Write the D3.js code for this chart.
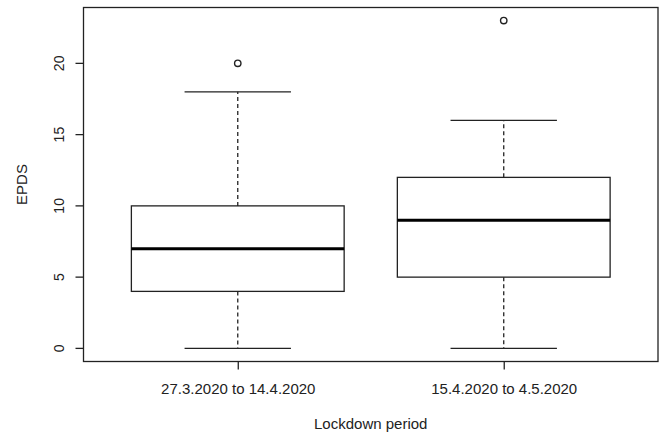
<!DOCTYPE html>
<html>
<head>
<meta charset="utf-8">
<script src="https://cdn.jsdelivr.net/npm/d3@7"></script>
<style>
  body { margin: 0; background: #fff; }
  svg { display: block; font-family: "Liberation Sans", Arial, sans-serif; }
</style>
</head>
<body>
<div id="chart"></div>
<script>
// values
const groups = ["27.3.2020 to 14.4.2020", "15.4.2020 to 4.5.2020"];
const lowWhisker = [0, 0];
const q1 = [4, 5];
const medians = [7, 9];
const q3 = [10, 12];
const highWhisker = [18, 16];
const outliers = [[20], [23]];
const yTicks = [0, 5, 10, 15, 20];

const width = 659, height = 437;
const ink = "#222";

const svg = d3.select("#chart").append("svg")
    .attr("width", width)
    .attr("height", height);

// R-like: positions 1..n, range extended 4%
let x = d3.scaleLinear().domain([0.42, 2.58]).range([83.5, 658]);
let y = d3.scaleLinear().domain([-0.92, 23.92]).range([361.5, 7.5]);

const boxHalf = 0.4, capHalf = 0.2;

const box = svg.selectAll("g.box")
    .data(groups.map((g, i) => ({
        pos: i + 1, lo: lowWhisker[i], q1: q1[i], med: medians[i],
        q3: q3[i], hi: highWhisker[i], out: outliers[i]
    })))
    .join("g")
    .attr("class", "box");

// whiskers (dashed)
box.append("line")
    .attr("x1", d => x(d.pos)).attr("x2", d => x(d.pos))
    .attr("y1", d => y(d.q3)).attr("y2", d => y(d.hi))
    .attr("stroke", ink).attr("stroke-width", 1.3).attr("stroke-dasharray", "4,3");
box.append("line")
    .attr("x1", d => x(d.pos)).attr("x2", d => x(d.pos))
    .attr("y1", d => y(d.q1)).attr("y2", d => y(d.lo))
    .attr("stroke", ink).attr("stroke-width", 1.3).attr("stroke-dasharray", "4,3");

// staples
box.selectAll("line.cap")
    .data(d => [d.lo, d.hi].map(v => ({pos: d.pos, v})))
    .join("line")
    .attr("class", "cap")
    .attr("x1", d => x(d.pos - capHalf)).attr("x2", d => x(d.pos + capHalf))
    .attr("y1", d => y(d.v)).attr("y2", d => y(d.v))
    .attr("stroke", ink).attr("stroke-width", 1.3);

box.append("rect")
    .attr("x", d => x(d.pos - boxHalf))
    .attr("width", d => x(d.pos + boxHalf) - x(d.pos - boxHalf))
    .attr("y", d => y(d.q3))
    .attr("height", d => y(d.q1) - y(d.q3))
    .attr("fill", "none").attr("stroke", ink).attr("stroke-width", 1.3);

box.append("line")
    .attr("x1", d => x(d.pos - boxHalf)).attr("x2", d => x(d.pos + boxHalf))
    .attr("y1", d => y(d.med)).attr("y2", d => y(d.med))
    .attr("stroke", "#000").attr("stroke-width", 3);

box.selectAll("circle")
    .data(d => d.out.map(v => ({pos: d.pos, v})))
    .join("circle")
    .attr("cx", d => x(d.pos)).attr("cy", d => y(d.v))
    .attr("r", 3.2)
    .attr("fill", "none").attr("stroke", ink).attr("stroke-width", 1.4);

// frame
svg.append("rect")
    .attr("x", x.range()[0]).attr("y", y.range()[1])
    .attr("width", x.range()[1] - x.range()[0])
    .attr("height", y.range()[0] - y.range()[1])
    .attr("fill", "none").attr("stroke", ink).attr("stroke-width", 1.3);

// y axis
const yAxis = svg.append("g")
    .attr("transform", `translate(${x.range()[0]},0)`)
    .call(d3.axisLeft(y).tickValues(yTicks).tickSize(8).tickPadding(0));
yAxis.select(".domain").remove();
yAxis.selectAll("line").attr("stroke", ink).attr("stroke-width", 1.3);
yAxis.selectAll("text")
    .attr("font-size", 14).attr("fill", "#222")
    .attr("transform", d => `translate(-24,${y(d)}) rotate(-90)`)
    .attr("x", 0).attr("y", 0).attr("dy", "0.35em")
    .attr("text-anchor", "middle");
yAxis.selectAll(".tick").attr("transform", null);
yAxis.selectAll(".tick line")
    .attr("y1", d => y(d)).attr("y2", d => y(d));

// x axis
const xAxis = svg.append("g")
    .attr("transform", `translate(0,${y.range()[0]})`)
    .call(d3.axisBottom(x).tickValues([1, 2]).tickFormat((d) => groups[d - 1])
        .tickSize(8).tickPadding(14));
xAxis.select(".domain").remove();
xAxis.selectAll("line").attr("stroke", ink).attr("stroke-width", 1.3);
xAxis.selectAll("text").attr("font-size", 15).attr("fill", "#222");

svg.append("text")
    .attr("x", (x.range()[0] + x.range()[1]) / 2)
    .attr("y", 429)
    .attr("text-anchor", "middle")
    .attr("font-size", 15).attr("fill", "#222")
    .text("Lockdown period");

svg.append("text")
    .attr("transform", `translate(27,${(y.range()[0] + y.range()[1]) / 2}) rotate(-90)`)
    .attr("text-anchor", "middle")
    .attr("font-size", 15).attr("fill", "#222")
    .text("EPDS");
</script>
</body>
</html>
